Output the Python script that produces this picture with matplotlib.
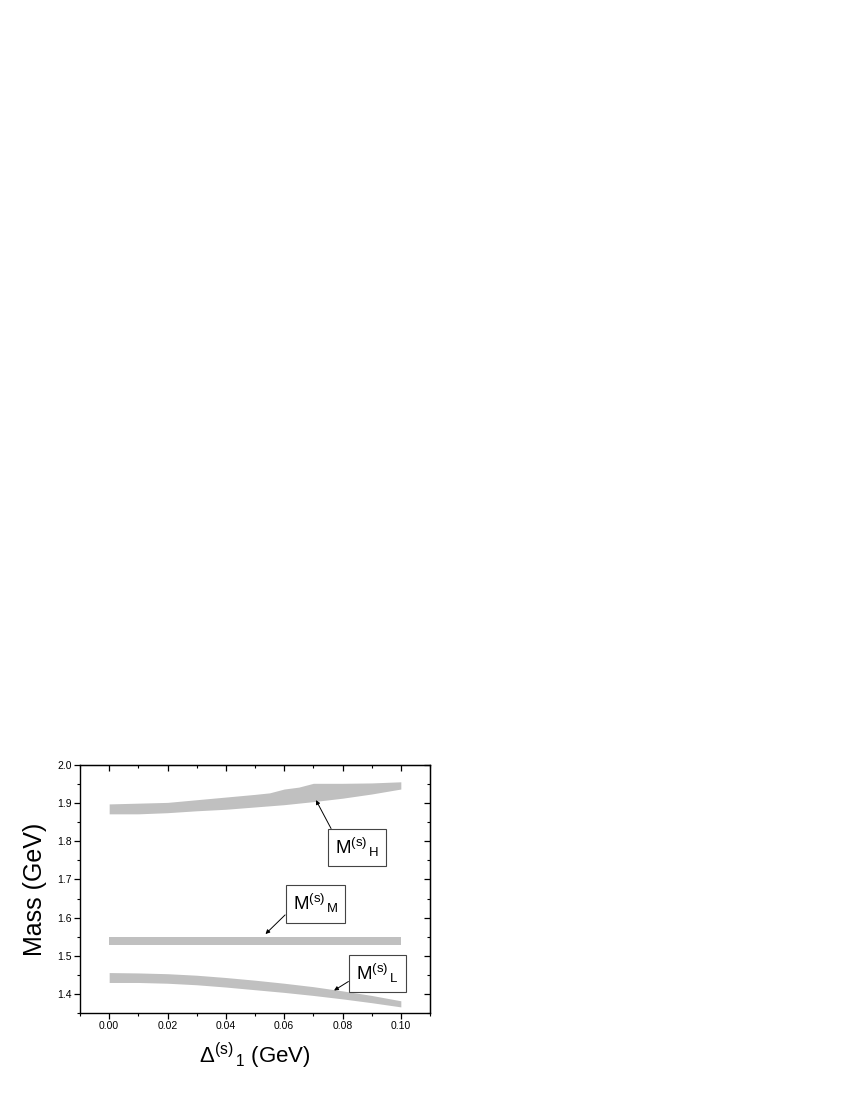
import matplotlib
matplotlib.use("Agg")
import matplotlib.pyplot as plt
from matplotlib.ticker import MultipleLocator

plt.rcParams['font.family'] = ['Liberation Sans', 'DejaVu Sans']
plt.rcParams['mathtext.fontset'] = 'custom'
plt.rcParams['mathtext.rm'] = 'Liberation Sans'
plt.rcParams['mathtext.it'] = 'Liberation Sans'
plt.rcParams['mathtext.default'] = 'regular'

# ---- data ----
x_H = [0.0, 0.01, 0.02, 0.03, 0.04, 0.05, 0.055, 0.06, 0.065, 0.07, 0.08, 0.09, 0.10]
H_upper = [1.898, 1.900, 1.902, 1.909, 1.916, 1.923, 1.927, 1.937, 1.942, 1.952, 1.952, 1.953, 1.956]
H_lower = [1.872, 1.872, 1.875, 1.880, 1.884, 1.890, 1.893, 1.896, 1.900, 1.904, 1.913, 1.924, 1.937]

x_M = [0.0, 0.10]
M_upper = [1.548, 1.548]
M_lower = [1.528, 1.528]

x_L = [0.0, 0.01, 0.02, 0.03, 0.04, 0.05, 0.06, 0.07, 0.08, 0.09, 0.10]
L_upper = [1.456, 1.455, 1.453, 1.449, 1.443, 1.436, 1.428, 1.419, 1.408, 1.396, 1.382]
L_lower = [1.430, 1.430, 1.428, 1.424, 1.418, 1.411, 1.404, 1.396, 1.387, 1.377, 1.366]

labels = [r'M$^{(s)}{}_{\,H}$', r'M$^{(s)}{}_{\,M}$', r'M$^{(s)}{}_{\,L}$']
label_xy = [(0.085, 1.7835), (0.0707, 1.636), (0.0919, 1.4534)]
arrow_tip = [(0.0709, 1.908), (0.0536, 1.557), (0.0771, 1.409)]
arrow_rel = [(0.0, 1.0), (0.0, 0.34), (0.0, 0.36)]

band_color = '#c0c0c0'

fig = plt.figure(figsize=(8.5, 11), dpi=100)
ax = fig.add_axes([80/850, 1-1013/1100, 350/850, 248/1100])

for xs, up, lo in [(x_H, H_upper, H_lower), (x_M, M_upper, M_lower), (x_L, L_upper, L_lower)]:
    ax.fill_between(xs, lo, up, color=band_color, lw=0)

for lab, xy, tip, rel in zip(labels, label_xy, arrow_tip, arrow_rel):
    ax.annotate(lab, xy=tip, xytext=xy, ha='center', va='center', fontsize=13.5,
                bbox=dict(boxstyle='square,pad=0.38', fc='white', ec='#444444', lw=0.8),
                arrowprops=dict(arrowstyle='-|>', color='black', lw=0.7,
                                mutation_scale=6, shrinkA=0, shrinkB=0, relpos=rel))

ax.set_xlim(-0.01, 0.11)
ax.set_ylim(1.35, 2.0)
ax.xaxis.set_major_locator(MultipleLocator(0.02))
ax.xaxis.set_minor_locator(MultipleLocator(0.01))
ax.yaxis.set_major_locator(MultipleLocator(0.1))
ax.yaxis.set_minor_locator(MultipleLocator(0.05))
ax.xaxis.set_major_formatter(plt.FormatStrFormatter('%.2f'))
ax.yaxis.set_major_formatter(plt.FormatStrFormatter('%.1f'))
ax.tick_params(which='major', direction='out', length=4, width=0.9, labelsize=7.5, pad=2)
ax.tick_params(which='minor', direction='out', length=2.5, width=0.8)
for s in ax.spines.values():
    s.set_linewidth(1.0)

secx = ax.secondary_xaxis('top')
secx.xaxis.set_major_locator(MultipleLocator(0.02))
secx.xaxis.set_minor_locator(MultipleLocator(0.01))
secx.tick_params(which='major', direction='in', length=4, width=0.9, labeltop=False)
secx.tick_params(which='minor', direction='in', length=2.5, width=0.8)
secy = ax.secondary_yaxis('right')
secy.yaxis.set_major_locator(MultipleLocator(0.1))
secy.yaxis.set_minor_locator(MultipleLocator(0.05))
secy.tick_params(which='major', direction='in', length=4, width=0.9, labelright=False)
secy.tick_params(which='minor', direction='in', length=2.5, width=0.8)

ax.set_xlabel(r'$\Delta^{(s)}{}_{\,1}$ (GeV)', fontsize=16, labelpad=7)
ax.set_ylabel('Mass (GeV)', fontsize=18, labelpad=7)

fig.savefig('out.png', dpi=100)
